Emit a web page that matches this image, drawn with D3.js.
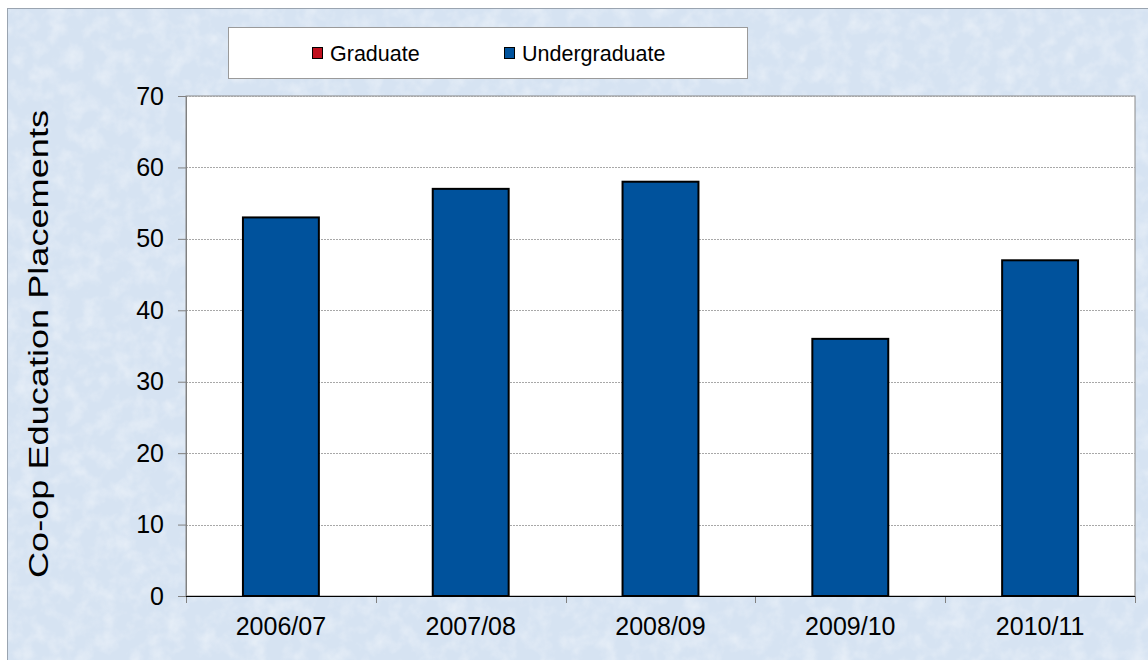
<!DOCTYPE html>
<html><head><meta charset="utf-8">
<script src="https://cdn.jsdelivr.net/npm/d3@7"></script>
<style>html,body{margin:0;padding:0;background:#fff;}svg{display:block;}</style>
</head><body>
<svg id="chart" width="1148" height="660"></svg>
<script>
const categories = ["2006/07", "2007/08", "2008/09", "2009/10", "2010/11"];
const graduate = [0, 0, 0, 0, 0];
const undergraduate = [53, 57, 58, 36, 47];
const yTicks = [0, 10, 20, 30, 40, 50, 60, 70];
const seriesNames = ["Graduate", "Undergraduate"];
const seriesColors = ["#c0101e", "#00529c"];
const FONT = "Liberation Sans, Arial, sans-serif";

const svg = d3.select("#chart");
const defs = svg.append("defs");
const f = defs.append("filter").attr("id","tex").attr("x",0).attr("y",0).attr("width","100%").attr("height","100%");
f.append("feTurbulence").attr("type","fractalNoise").attr("baseFrequency","0.06").attr("numOctaves",3).attr("seed",4).attr("result","n");
f.append("feColorMatrix").attr("in","n").attr("type","matrix")
 .attr("values","0 0 0 0 1  0 0 0 0 1  0 0 0 0 1  1.1 0 0 0 -0.45").attr("result","w");
f.append("feComposite").attr("in","w").attr("in2","SourceGraphic").attr("operator","in");

// background
svg.append("rect").attr("x",7.5).attr("y",8.5).attr("width",1148).attr("height",660)
  .attr("fill","#d6e3f2").attr("stroke","#9aa4b0").attr("stroke-width",1);
svg.append("rect").attr("x",8).attr("y",9).attr("width",1140).attr("height",651)
  .attr("fill","#d6e3f2").attr("filter","url(#tex)").attr("opacity",0.7);

const m = {left:186, top:96, right:1135, bottom:596};
const x = d3.scaleBand().domain(categories).range([m.left, m.right]).paddingInner(0.6).paddingOuter(0.3);
const xb = d3.scaleBand().domain(categories).range([m.left, m.right]);
const y = d3.scaleLinear().domain([0,70]).range([m.bottom, m.top]);

svg.append("rect").attr("x",m.left).attr("y",m.top).attr("width",m.right-m.left).attr("height",m.bottom-m.top)
  .attr("fill","#ffffff").attr("stroke","#8a8a8a").attr("stroke-width",1);

// gridlines
svg.append("g").selectAll("line").data(yTicks.filter(d=>d>0)).join("line")
  .attr("x1",m.left).attr("x2",m.right).attr("y1",d=>Math.round(y(d))+0.5).attr("y2",d=>Math.round(y(d))+0.5)
  .attr("stroke","#a8a8a8").attr("stroke-width",1).attr("stroke-dasharray","2,1");

// y axis
const yAxis = svg.append("g").attr("transform",`translate(${m.left},0)`)
  .call(d3.axisLeft(y).tickValues(yTicks).tickSize(8).tickPadding(14));
yAxis.select(".domain").attr("stroke","#808080");
yAxis.selectAll(".tick line").attr("stroke","#808080");
yAxis.selectAll("text").attr("font-family",FONT).attr("font-size",25).attr("fill","#000");

// x axis
const xAxis = svg.append("g").attr("transform",`translate(0,${m.bottom})`)
  .call(d3.axisBottom(xb).tickSize(0).tickPadding(21));
xAxis.select(".domain").remove();
xAxis.selectAll("text").attr("font-family",FONT).attr("font-size",25).attr("fill","#000");
const bounds = categories.map(c=>xb(c)).concat([m.right]);
svg.append("g").selectAll("line").data(bounds).join("line")
  .attr("x1",d=>Math.round(d)+0.5).attr("x2",d=>Math.round(d)+0.5).attr("y1",m.bottom).attr("y2",m.bottom+7)
  .attr("stroke","#808080");
svg.append("line").attr("x1",m.left).attr("x2",m.right).attr("y1",m.bottom+0.5).attr("y2",m.bottom+0.5)
  .attr("stroke","#000").attr("stroke-width",1.2);

// stacked bars
const rows = categories.map((c,i)=>({cat:c, Graduate:graduate[i], Undergraduate:undergraduate[i]}));
const stack = d3.stack().keys(["Undergraduate","Graduate"])(rows);
const colorOf = k => seriesColors[seriesNames.indexOf(k)];
stack.forEach(layer=>{
  svg.append("g").selectAll("rect").data(layer.filter(d=>d[1]-d[0]>0)).join("rect")
    .attr("x",d=>x(d.data.cat)).attr("width",x.bandwidth())
    .attr("y",d=>y(d[1])).attr("height",d=>y(d[0])-y(d[1]))
    .attr("fill",colorOf(layer.key)).attr("stroke","#000").attr("stroke-width",2);
});

// y title
svg.append("text").attr("transform",`translate(48,${(m.top+m.bottom)/2 - 2}) rotate(-90)`)
  .attr("text-anchor","middle").attr("font-family",FONT)
  .attr("font-size",27).attr("fill","#000")
  .attr("textLength",468).attr("lengthAdjust","spacingAndGlyphs")
  .text("Co-op Education Placements");

// legend
svg.append("rect").attr("x",228.5).attr("y",27.5).attr("width",519).attr("height",51)
  .attr("fill","#fff").attr("stroke","#9a9a9a");
const legX = [312, 504];
seriesNames.forEach((s,i)=>{
  svg.append("rect").attr("x",legX[i]+0.5).attr("y",47.5).attr("width",10).attr("height",11)
    .attr("fill",seriesColors[i]).attr("stroke","#000").attr("stroke-width",1);
  svg.append("text").attr("x",legX[i]+18).attr("y",61).attr("font-family",FONT)
    .attr("font-size",21.5).attr("fill","#000").text(s);
});
</script>
</body></html>
